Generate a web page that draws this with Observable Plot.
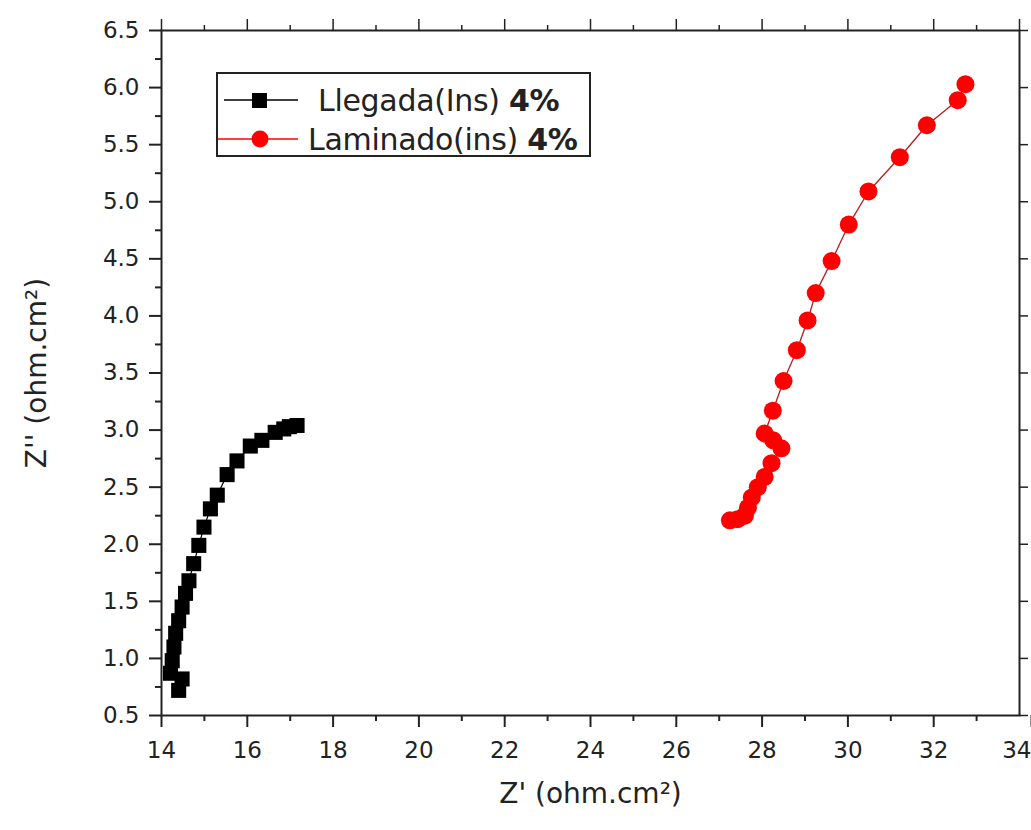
<!DOCTYPE html>
<html>
<head>
<meta charset="utf-8">
<script src="https://cdn.jsdelivr.net/npm/d3@7"></script>
<script src="https://cdn.jsdelivr.net/npm/@observablehq/plot@0.6"></script>
<style>
  html, body { margin: 0; padding: 0; background: #fff; }
  #wrap { position: relative; width: 1031px; height: 830px; font-family: "DejaVu Sans", "Liberation Sans", Arial, sans-serif; }
  #legend { position: absolute; left: 216px; top: 72px; width: 375px; height: 85px; border: 2px solid #222; box-sizing: border-box; background: #fff; }
  .row { position: absolute; left: 0; height: 40px; display: flex; align-items: center; font-size: 30px; color: #222; white-space: nowrap; letter-spacing: -0.3px; }
  .row svg { display: block; }
  .row b { font-weight: bold; }
</style>
</head>
<body>
<div id="wrap">
  <div id="chart"></div>
  <div id="legend"></div>
</div>
<script>
// Series names
const seriesNames = ["Llegada(Ins)", "Laminado(ins)"];
const seriesSuffix = "4%";
const seriesColors = ["#000000", "#ff0000"];

// Llegada(Ins) 4% — black squares
const llegadaX = [17.16, 16.98, 16.85, 16.65, 16.34, 16.07, 15.76, 15.53, 15.30, 15.14, 14.99, 14.87, 14.75, 14.64, 14.56, 14.48, 14.40, 14.33, 14.29, 14.25, 14.21, 14.48, 14.40];
const llegadaY = [3.04, 3.03, 3.01, 2.98, 2.91, 2.86, 2.73, 2.61, 2.43, 2.31, 2.15, 1.99, 1.83, 1.68, 1.57, 1.45, 1.33, 1.22, 1.10, 0.98, 0.87, 0.82, 0.72];

// Laminado(ins) 4% — red circles
const laminadoX = [32.74, 32.56, 31.84, 31.21, 30.48, 30.02, 29.62, 29.25, 29.06, 28.81, 28.50, 28.25, 28.06, 28.26, 28.45, 28.22, 28.06, 27.90, 27.76, 27.67, 27.60, 27.43, 27.25];
const laminadoY = [6.03, 5.89, 5.67, 5.39, 5.09, 4.80, 4.48, 4.20, 3.96, 3.70, 3.43, 3.17, 2.97, 2.91, 2.84, 2.71, 2.59, 2.50, 2.41, 2.32, 2.25, 2.22, 2.21];

// Axis ticks and labels
const xMajorTicks = [14, 16, 18, 20, 22, 24, 26, 28, 30, 32];
const xLastTick = [34];
const xMinorTicks = [15, 17, 19, 21, 23, 25, 27, 29, 31, 33];
const yMajorTicks = [0.5, 1.0, 1.5, 2.0, 2.5, 3.0, 3.5, 4.0, 4.5, 5.0, 5.5, 6.0, 6.5];
const yMinorTicks = [0.75, 1.25, 1.75, 2.25, 2.75, 3.25, 3.75, 4.25, 4.75, 5.25, 5.75, 6.25];
const xTitle = "Z' (ohm.cm²)";
const yTitle = "Z'' (ohm.cm²)";

const llegada = llegadaX.map((x, i) => ({x, y: llegadaY[i]}));
const laminado = laminadoX.map((x, i) => ({x, y: laminadoY[i]}));

const axisColor = "#222";
const fmt = d3.format(".1f");
const allXMajor = xMajorTicks.concat(xLastTick);

const chart = Plot.plot({
  width: 1031,
  height: 830,
  marginLeft: 161,
  marginRight: 12,
  marginTop: 30,
  marginBottom: 115,
  style: { fontFamily: "'DejaVu Sans', 'Liberation Sans', Arial, sans-serif", fontSize: "23px", color: axisColor, background: "#fff" },
  x: { domain: [14, 34] },
  y: { domain: [0.5, 6.5] },
  marks: [
    Plot.line(llegada, {x: "x", y: "y", stroke: seriesColors[0], strokeWidth: 1.2}),
    Plot.line(laminado, {x: "x", y: "y", stroke: "#b81c1c", strokeWidth: 1.3}),
    Plot.dot(llegada, {x: "x", y: "y", symbol: "square", r: 8.5, fill: seriesColors[0], stroke: "none"}),
    Plot.dot(laminado, {x: "x", y: "y", symbol: "circle", r: 9, fill: seriesColors[1], stroke: "none"}),
    Plot.frame({stroke: axisColor, strokeWidth: 2}),
    Plot.axisX({ticks: xMajorTicks, tickSize: 12, tickPadding: 14, strokeWidth: 2, label: null, tickFormat: d => d, fontSize: 23}),
    Plot.axisX({ticks: xLastTick, tickSize: 12, tickPadding: 14, strokeWidth: 2, label: null, tickFormat: d => d, fontSize: 23, textAnchor: "end", dx: 12}),
    Plot.axisX({ticks: xMinorTicks, tickSize: 6, strokeWidth: 2, label: null, tickFormat: () => ""}),
    Plot.axisX({anchor: "top", ticks: allXMajor, tickSize: 12, strokeWidth: 1.5, label: null, tickFormat: () => ""}),
    Plot.axisX({anchor: "top", ticks: xMinorTicks, tickSize: 6, strokeWidth: 1.5, label: null, tickFormat: () => ""}),
    Plot.axisY({ticks: yMajorTicks, tickSize: 12, tickPadding: 10, strokeWidth: 2, label: null, tickFormat: fmt, fontSize: 23}),
    Plot.axisY({ticks: yMinorTicks, tickSize: 6, strokeWidth: 2, label: null, tickFormat: () => ""}),
    Plot.axisY({anchor: "right", ticks: yMajorTicks, tickSize: 8, strokeWidth: 1.5, label: null, tickFormat: () => ""}),
    Plot.text([xTitle], {frameAnchor: "bottom", textAnchor: "middle", dy: 87, fontSize: 28, fill: axisColor}),
    Plot.text([yTitle], {frameAnchor: "left", textAnchor: "middle", dx: -124, rotate: -90, fontSize: 28, fill: axisColor})
  ]
});
document.getElementById("chart").appendChild(chart);

// Legend (HTML overlay)
const legend = document.getElementById("legend");
const symbols = [
  `<rect x="34" y="12" width="15" height="15" fill="${seriesColors[0]}"/>`,
  `<circle cx="42" cy="19" r="8.5" fill="${seriesColors[1]}"/>`
];
seriesNames.forEach((name, i) => {
  const row = document.createElement("div");
  row.className = "row";
  row.style.top = (i === 0 ? 6 : 45) + "px";
  row.innerHTML =
    `<svg width="${i === 0 ? 98 : 88}" height="38"><line x1="${i === 0 ? 6 : 0}" x2="80" y1="19" y2="19" stroke="${seriesColors[i]}" stroke-width="1.5"/>${symbols[i]}</svg>` +
    `<span style="margin-left:2px">${name} <b>${seriesSuffix}</b></span>`;
  legend.appendChild(row);
});
</script>
</body>
</html>
